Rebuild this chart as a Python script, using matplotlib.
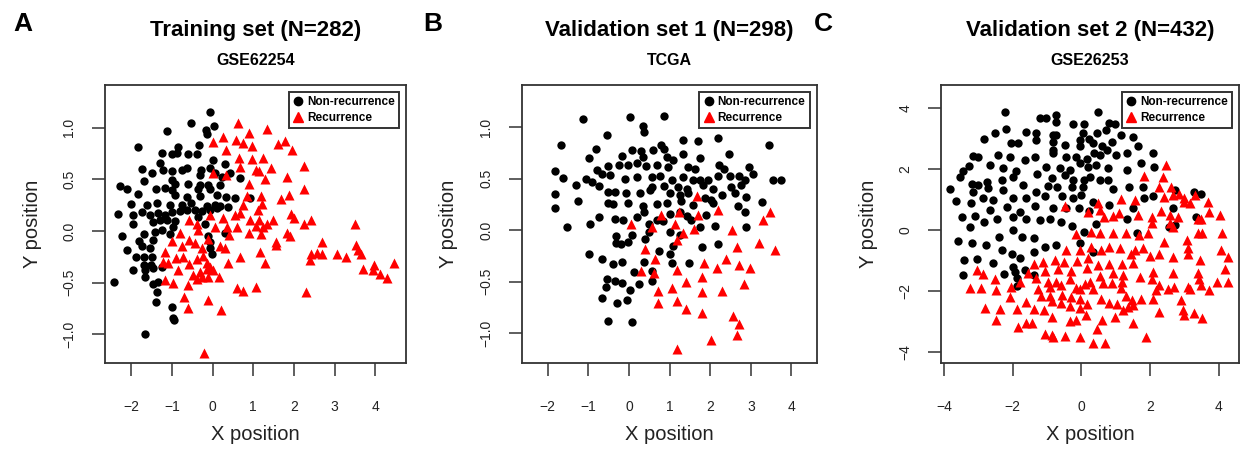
import matplotlib
matplotlib.use("Agg")
import matplotlib.pyplot as plt
from matplotlib.lines import Line2D

plt.rcParams["font.family"] = ["Liberation Sans", "DejaVu Sans"]

# --- Panel A: training set GSE62254 ---
a_non_x = [-0.07, 0.04, -0.52, -1.13, -0.16, -0.13, -1.83, -0.33, -0.84, -0.87, -1.25, -0.60, -0.39, -1.01,
           0.00, 0.30, -1.30, -1.75, -1.50, -1.21, -1.01, -0.76, -0.62, -0.29, -0.07, 0.06, -0.31, 0.22, 0.44,
           0.67, -1.70, -1.01, -0.93, -0.60, -0.31, -0.11, 0.18, -2.28, -2.10, -1.39, -1.17, -1.01, -0.35, -0.07,
           -1.83, -0.93, -0.62, -0.31, 0.10, 0.34, 0.55, 0.92, -2.02, -1.62, -1.38, -1.05, -0.76, -0.52, -0.15,
           0.06, 0.18, 0.39, -2.32, -1.95, -1.75, -1.54, -1.34, -1.17, -1.01, -0.80, -0.62, -0.43, -0.27, -0.07,
           0.10, -1.95, -1.46, -1.30, -1.13, -0.93, -0.35, -0.19, -2.24, -1.70, -1.42, -1.25, -1.05, -0.97, 0.30,
           -1.80, -1.46, -0.11, -0.07, -2.10, -1.75, -1.54, -0.07, -1.89, -1.70, -1.48, -0.02, -1.70, -1.52,
           -1.25, -1.97, -1.66, -1.46, -2.43, -1.66, -1.46, -1.34, -1.36, -1.39, -1.01, -0.98, -0.95, -1.66]
a_non_y = [1.15, 1.02, 1.05, 0.97, 0.98, 0.94, 0.81, 0.83, 0.81, 0.76, 0.76, 0.75, 0.75, 0.75,
           0.69, 0.65, 0.66, 0.60, 0.56, 0.59, 0.58, 0.59, 0.61, 0.59, 0.61, 0.56, 0.54, 0.52, 0.56,
           0.51, 0.48, 0.49, 0.46, 0.46, 0.45, 0.45, 0.45, 0.44, 0.41, 0.41, 0.42, 0.40, 0.41, 0.41,
           0.36, 0.35, 0.33, 0.34, 0.35, 0.33, 0.32, 0.32, 0.26, 0.25, 0.27, 0.25, 0.25, 0.27, 0.24,
           0.25, 0.24, 0.23, 0.16, 0.15, 0.18, 0.15, 0.17, 0.15, 0.18, 0.19, 0.20, 0.20, 0.19, 0.20,
           0.22, 0.07, 0.09, 0.11, 0.11, 0.10, 0.14, 0.07, -0.05, -0.03, -0.01, 0.01, -0.03, 0.04, -0.02,
           -0.10, -0.09, -0.05, -0.11, -0.18, -0.15, -0.17, -0.17, -0.25, -0.25, -0.25, -0.22, -0.33, -0.33,
           -0.35, -0.38, -0.38, -0.36, -0.49, -0.45, -0.51, -0.49, -0.59, -0.69, -0.74, -0.84, -0.86, -1.00]
a_rec_x = [0.63, 1.35, 0.90, 0.26, 0.57, 0.75, 0.00, 1.61, 1.78, 0.98, 1.96, 0.33, 0.66, 0.98, 1.25, 0.67,
           1.07, 1.15, 1.43, 2.25, 0.02, 0.33, 1.30, 1.82, 0.90, 2.25, 0.84, 1.20, 1.89, 1.68, 1.22, 0.75,
           -0.07, 0.25, 0.55, 0.67, 0.92, 1.12, 1.15, 1.49, 1.33, 1.92, 2.00, 2.43, 2.25, 3.50, -0.57, -0.39,
           -0.35, 0.06, 0.36, 0.59, 1.08, 1.25, -0.80, 0.41, 0.90, 1.20, 1.82, 1.90, -1.01, -0.57, -0.43,
           -0.11, -0.75, -0.27, 0.18, 0.30, 1.16, 1.57, 1.56, 2.68, -1.17, -0.72, -0.90, -0.39, -0.23, 0.67,
           2.41, 2.56, 2.68, 3.07, 3.28, 3.52, 3.58, 3.64, -1.21, -1.09, -0.57, -0.15, -0.07, 0.39, 1.30,
           2.39, 4.46, 3.97, -0.84, -0.49, -0.31, -0.15, 0.02, 3.70, 3.95, 4.13, 4.28, -1.17, -0.97, -0.39,
           -0.27, -0.11, 0.16, -0.61, 0.61, 0.74, 1.06, 2.30, -0.70, -0.12, -0.60, 0.20, -0.21]
a_rec_y = [1.05, 0.99, 0.95, 0.91, 0.88, 0.85, 0.86, 0.84, 0.87, 0.82, 0.78, 0.78, 0.71, 0.70, 0.71, 0.62,
           0.59, 0.58, 0.61, 0.63, 0.56, 0.54, 0.50, 0.52, 0.46, 0.41, 0.34, 0.34, 0.35, 0.31, 0.26, 0.25,
           0.15, 0.13, 0.15, 0.17, 0.11, 0.20, 0.11, 0.11, 0.07, 0.16, 0.13, 0.11, 0.07, 0.07, 0.11, 0.07,
           0.01, 0.04, 0.04, 0.04, 0.05, 0.04, -0.02, -0.04, -0.02, -0.03, -0.02, -0.05, -0.10, -0.09, -0.12,
           -0.08, -0.15, -0.17, -0.15, -0.17, -0.20, -0.11, -0.14, -0.11, -0.20, -0.25, -0.26, -0.27, -0.24, -0.25,
           -0.22, -0.21, -0.22, -0.22, -0.25, -0.14, -0.18, -0.22, -0.30, -0.31, -0.32, -0.31, -0.35, -0.31, -0.31,
           -0.28, -0.31, -0.33, -0.38, -0.43, -0.40, -0.37, -0.38, -0.37, -0.38, -0.42, -0.46, -0.48, -0.50, -0.47,
           -0.45, -0.45, -0.45, -0.52, -0.55, -0.58, -0.54, -0.59, -0.64, -0.67, -0.75, -0.77, -1.18]

# --- Panel B: validation set 1, TCGA ---
b_non_x = [-1.12, 0.02, 0.87, 0.34, 0.37, -1.68, -0.53, 1.34, 1.71, 2.20, 3.45, -0.81, 0.07, 0.29, 0.60, 0.80,
           0.86, -0.98, -0.18, 0.34, 0.93, 1.09, 1.32, 1.74, 2.46, -0.51, -0.25, -0.02, 0.20, 0.43, 0.70, 0.97,
           1.46, 1.63, 2.22, 2.34, 2.96, -1.82, -0.78, -0.67, -0.47, 0.19, 0.56, 0.76, 1.05, 1.32, 1.57, 1.74,
           1.95, 2.20, 2.48, 2.71, 2.85, 3.05, 3.55, 3.75, -1.63, -1.06, -0.92, -1.31, -0.73, -0.10, 0.56, 0.86,
           1.21, 1.42, 1.83, 2.07, 2.52, 2.77, -1.82, -0.51, -0.34, -0.06, 0.27, 0.52, 1.01, 1.25, 1.46, 1.87,
           2.03, 2.28, 2.61, 2.89, -1.82, -1.25, -0.51, -0.39, -0.02, 0.34, 0.68, 0.93, 1.29, 1.58, 2.07, 2.69,
           3.27, -1.53, -0.96, -0.73, -0.34, -0.14, 0.19, 0.37, 0.50, 0.68, 0.84, 1.01, 1.25, 1.42, 1.54, 1.74,
           1.89, 2.11, 2.85, 2.87, -0.98, -0.66, -0.32, -0.32, -0.20, -0.02, 0.08, 0.39, 0.50, 0.75, 1.00, 1.09,
           1.25, 1.01, 1.81, 2.20, -0.38, -0.18, 0.12, 0.37, 0.58, 1.07, 1.49, -0.53, -0.57, -0.34, -0.18, 0.02,
           0.26, 0.56, -0.65, -0.29, -0.04, -0.51, 0.07]
b_non_y = [1.08, 1.10, 1.11, 1.01, 0.95, 0.83, 0.92, 0.88, 0.87, 0.90, 0.83, 0.79, 0.78, 0.77, 0.78, 0.83,
           0.79, 0.70, 0.72, 0.71, 0.71, 0.68, 0.74, 0.70, 0.74, 0.62, 0.63, 0.63, 0.65, 0.62, 0.63, 0.61,
           0.61, 0.59, 0.63, 0.59, 0.61, 0.57, 0.58, 0.55, 0.54, 0.52, 0.52, 0.53, 0.49, 0.52, 0.49, 0.49,
           0.49, 0.53, 0.53, 0.53, 0.49, 0.55, 0.49, 0.49, 0.51, 0.50, 0.47, 0.44, 0.43, 0.50, 0.42, 0.43,
           0.42, 0.40, 0.44, 0.40, 0.42, 0.44, 0.35, 0.37, 0.37, 0.36, 0.36, 0.39, 0.36, 0.34, 0.36, 0.31,
           0.29, 0.34, 0.36, 0.32, 0.22, 0.28, 0.26, 0.25, 0.26, 0.23, 0.25, 0.26, 0.28, 0.24, 0.26, 0.23,
           0.27, 0.03, 0.06, 0.13, 0.11, 0.10, 0.13, 0.18, 0.06, 0.10, 0.09, 0.16, 0.18, 0.14, 0.10, 0.03,
           0.15, 0.04, 0.18, 0.03, -0.23, -0.28, -0.06, -0.12, -0.13, -0.11, -0.05, -0.09, -0.02, -0.20, -0.23, -0.15,
           -0.05, -0.02, -0.16, -0.13, -0.33, -0.31, -0.41, -0.31, -0.40, -0.32, -0.32, -0.47, -0.55, -0.49, -0.51, -0.58,
           -0.52, -0.49, -0.66, -0.71, -0.68, -0.88, -0.89]
b_rec_x = [1.68, 2.20, 3.48, 3.29, 0.78, 1.70, 0.05, 0.57, 1.14, 1.24, 1.32, 1.60, 2.54, 1.18, 0.39, 2.66,
           3.20, 3.59, 0.64, 1.86, 2.39, 2.70, 2.99, 2.18, 0.29, 0.61, 1.19, 1.40, 1.79, 2.84, 0.72, 1.07,
           1.79, 2.30, 0.72, 1.19, 1.40, 1.79, 2.57, 2.70, 2.66, 2.01, 1.19]
b_rec_y = [0.33, 0.20, 0.18, 0.10, 0.15, 0.15, 0.06, 0.03, 0.06, 0.18, -0.03, 0.01, 0.00, -0.10, -0.18, -0.16,
           -0.12, -0.19, -0.28, -0.32, -0.28, -0.34, -0.37, -0.37, -0.40, -0.42, -0.39, -0.50, -0.45, -0.52, -0.59, -0.56,
           -0.60, -0.59, -0.71, -0.69, -0.77, -0.80, -0.83, -0.91, -1.02, -1.07, -1.15]

# --- Panel C: validation set 2, GSE26253 ---
c_non_x = [-2.23, 0.48, -1.21, -1.02, -0.75, -0.73, -0.24, 0.07, 0.82, 0.97, -2.20, -1.62, -2.52, -2.84, -1.31,
           -1.31, -0.82, -0.73, 0.05, 0.22, 0.45, 0.73, 1.16, 1.52, -2.04, -1.84, -0.82, -0.48, -0.05, -0.05,
           0.34, 0.61, 0.90, 1.65, -3.15, -3.00, -2.42, -2.08, -1.65, -1.36, -0.82, -0.84, -0.44, -0.16, 0.15,
           0.36, 0.53, 0.75, 1.02, 1.33, 2.08, -3.44, -3.27, -2.66, -2.28, -1.91, -1.04, -0.63, -0.34, -0.05,
           0.19, 0.42, 0.77, 1.33, 1.74, 2.11, -3.55, -3.20, -3.00, -2.76, -2.32, -1.98, -1.69, -1.29, -0.87,
           -0.48, -0.24, 0.07, 0.24, 0.53, 0.78, -3.84, -3.15, -2.71, -2.28, -1.33, -0.97, -0.71, -0.26, 0.05,
           0.92, 1.38, 1.79, 2.74, 3.29, 3.48, -3.65, -3.22, -2.88, -2.57, -2.00, -1.60, -1.06, -0.55, -0.24,
           0.00, 0.34, 1.84, 2.08, -3.48, -3.10, -2.66, -2.18, -1.79, -1.36, -0.82, -0.44, -0.07, 0.22, 0.82,
           1.50, 2.66, -3.24, -2.84, -2.47, -2.00, -1.60, -1.21, -0.92, -0.58, -0.26, 0.07, 0.42, 1.33, 2.56,
           2.74, 3.35, -3.61, -3.19, -2.78, -2.39, -1.98, -1.74, -1.38, -1.06, -0.75, -0.05, 0.34, 1.62, -3.42,
           -3.05, -2.58, -2.32, -2.03, -1.79, -1.38, -1.98, -1.94, -1.65, -1.38, -2.26, -3.46, -1.89, -1.87]
c_non_y = [3.89, 3.89, 3.69, 3.70, 3.78, 3.56, 3.50, 3.50, 3.53, 3.48, 3.31, 3.23, 3.18, 2.98, 3.18,
           2.96, 3.12, 3.12, 3.18, 2.98, 3.18, 3.29, 3.12, 3.07, 2.87, 2.85, 2.90, 2.79, 2.96, 2.76,
           2.85, 2.76, 2.90, 2.76, 2.43, 2.39, 2.46, 2.39, 2.30, 2.39, 2.63, 2.54, 2.41, 2.41, 2.35,
           2.52, 2.46, 2.63, 2.46, 2.54, 2.52, 1.95, 2.10, 2.14, 2.03, 1.95, 2.06, 2.03, 1.99, 2.19,
           2.06, 2.14, 2.03, 1.97, 2.19, 2.06, 1.73, 1.53, 1.48, 1.59, 1.64, 1.75, 1.48, 1.83, 1.70,
           1.81, 1.66, 1.64, 1.75, 1.66, 1.66, 1.34, 1.26, 1.37, 1.31, 1.26, 1.45, 1.42, 1.42, 1.42,
           1.34, 1.40, 1.40, 1.31, 1.26, 1.20, 0.96, 0.88, 1.04, 0.99, 1.04, 1.07, 1.12, 1.12, 1.04,
           1.15, 0.93, 1.07, 1.12, 0.42, 0.46, 0.66, 0.77, 0.60, 0.79, 0.71, 0.71, 0.71, 0.64, 0.82,
           0.71, 0.71, 0.11, 0.27, 0.38, 0.44, 0.35, 0.33, 0.38, 0.27, 0.13, -0.05, 0.20, 0.35, 0.11,
           0.16, 0.44, -0.36, -0.44, -0.49, -0.22, 0.00, -0.22, -0.27, -0.55, -0.49, -0.44, -0.71, -0.09, -0.99,
           -0.96, -1.07, -0.64, -0.77, -0.93, -0.71, -1.20, -1.37, -1.31, -1.48, -1.45, -1.48, -1.59, -1.84]
c_rec_x = [2.47, 1.84, 2.37, 2.27, 2.61, 2.42, 2.66, 2.86, 3.00, 3.16, 3.00, 3.32, 3.70, 3.72, 4.04, 1.16,
           1.55, 0.48, -0.48, 0.19, 0.53, 1.11, 1.65, 2.06, 2.32, 2.57, 2.81, 3.39, 3.48, 0.65, 0.92, 2.06,
           2.57, 2.66, -0.15, 0.29, 0.53, 0.92, 1.31, 1.67, 1.94, 2.42, 3.08, 3.39, 3.51, 4.11, -0.44, -0.05,
           0.27, 0.56, 0.82, 1.13, 1.45, 1.57, 1.79, 2.00, 2.25, 2.66, 3.10, 3.10, 3.46, 4.08, 4.27, -1.38,
           -1.11, -0.77, -0.51, -0.13, 0.19, 0.48, 0.80, 1.18, 1.52, -3.03, -2.86, -1.55, -1.06, -0.68, -0.29,
           0.16, 0.55, 0.92, 1.21, 1.71, 2.10, 2.66, 3.39, 4.18, -2.52, -1.79, -1.31, -0.97, -0.73, -0.32,
           0.10, 0.24, 0.63, 0.90, 1.19, 2.06, 2.25, 2.54, 3.12, 3.42, 3.48, 3.94, 4.28, -3.26, -2.93, -2.50,
           -2.04, -1.27, -0.92, -0.58, -0.15, -0.05, 0.34, 1.16, 2.18, 2.71, 3.16, 3.72, -2.08, -1.19, -0.90,
           -0.55, -0.29, -0.05, 0.58, 1.31, 1.48, 2.08, 2.90, -2.81, -2.37, -1.89, -1.60, -1.38, -1.09, -0.87,
           -0.58, -0.32, -0.05, 0.16, 0.82, 1.03, 1.21, 1.36, 1.52, 1.74, 2.25, 2.95, 3.00, -2.48, -1.84, -1.60,
           -1.45, -0.87, -0.34, -0.15, 0.13, 0.61, 0.97, 1.50, 3.29, 3.52, -1.06, -0.87, -0.84, -0.48, -0.05,
           0.45, 0.34, 0.68, 1.89]
c_rec_y = [2.14, 1.77, 1.75, 1.40, 1.42, 1.10, 1.15, 1.20, 1.07, 0.88, 0.93, 1.15, 0.93, 0.60, 0.49, 1.01,
           0.99, 0.88, 0.79, 0.60, 0.66, 0.57, 0.49, 0.44, 0.64, 0.49, 0.44, 0.38, 0.38, 0.44, 0.46, 0.24,
           0.22, 0.11, -0.13, -0.05, -0.09, -0.11, -0.11, -0.16, -0.11, -0.38, -0.31, -0.09, -0.09, -0.09, -0.64, -0.66,
           -0.55, -0.66, -0.55, -0.60, -0.77, -0.66, -0.60, -0.85, -0.77, -0.90, -0.60, -0.79, -0.99, -0.64, -0.88, -1.10,
           -1.04, -0.99, -1.04, -1.01, -0.93, -1.15, -1.10, -1.10, -1.07, -1.31, -1.45, -1.40, -1.34, -1.29, -1.34,
           -1.26, -1.51, -1.42, -1.48, -1.53, -1.37, -1.40, -1.40, -1.29, -1.62, -1.70, -1.59, -1.70, -1.72, -1.62,
           -1.77, -1.70, -1.73, -1.75, -1.70, -1.62, -1.81, -1.95, -1.86, -1.62, -1.81, -1.70, -1.70, -1.92, -1.92, -1.97,
           -1.88, -1.95, -1.88, -1.81, -1.92, -1.95, -1.95, -1.92, -1.97, -1.88, -1.95, -1.97, -2.19, -2.17, -2.17,
           -2.14, -2.19, -2.25, -2.25, -2.17, -2.30, -2.25, -2.30, -2.57, -2.61, -2.61, -2.35, -2.61, -2.63, -2.32,
           -2.41, -2.50, -2.57, -2.43, -2.39, -2.43, -2.63, -2.54, -2.46, -2.28, -2.68, -2.63, -2.79, -2.96, -3.18, -3.04,
           -3.04, -2.87, -2.98, -2.94, -2.79, -2.96, -2.87, -3.04, -2.72, -2.90, -3.42, -3.45, -3.53, -3.48, -3.53,
           -3.26, -3.72, -3.72, -3.50]

# axes boxes in figure fractions (left, bottom, width, height)
PANELS = [
    dict(box=[0.0845, 0.2022, 0.2424, 0.611], letter="A", letter_x=0.0185,
         title="Training set (N=282)", subtitle="GSE62254",
         non=(a_non_x, a_non_y), rec=(a_rec_x, a_rec_y),
         xlim=(-2.65, 4.76), ylim=(-1.28, 1.415),
         xticks=[-2, -1, 0, 1, 2, 3, 4], yticks=[-1.0, -0.5, 0.0, 0.5, 1.0], yfmt="{:.1f}"),
    dict(box=[0.4200, 0.2022, 0.2375, 0.611], letter="B", letter_x=0.3486,
         title="Validation set 1 (N=298)", subtitle="TCGA",
         non=(b_non_x, b_non_y), rec=(b_rec_x, b_rec_y),
         xlim=(-2.64, 4.62), ylim=(-1.29, 1.41),
         xticks=[-2, -1, 0, 1, 2, 3, 4], yticks=[-1.0, -0.5, 0.0, 0.5, 1.0], yfmt="{:.1f}"),
    dict(box=[0.7577, 0.2022, 0.2400, 0.611], letter="C", letter_x=0.6626,
         title="Validation set 2 (N=432)", subtitle="GSE26253",
         non=(c_non_x, c_non_y), rec=(c_rec_x, c_rec_y),
         xlim=(-4.09, 4.6), ylim=(-4.37, 4.77),
         xticks=[-4, -2, 0, 2, 4], yticks=[-4, -2, 0, 2, 4], yfmt="{:.0f}"),
]

fig = plt.figure(figsize=(12.42, 4.55), dpi=100)

for p in PANELS:
    ax = fig.add_axes(p["box"])
    ax.scatter(p["non"][0], p["non"][1], s=36, marker="o", color="black", linewidths=0, zorder=2)
    ax.scatter(p["rec"][0], p["rec"][1], s=52, marker="^", color="#ff0000", linewidths=0, zorder=3)
    ax.set_xlim(*p["xlim"])
    ax.set_ylim(*p["ylim"])

    ax.set_xticks(p["xticks"])
    ax.set_xticklabels([str(t).replace("-", "\u2212") for t in p["xticks"]])
    ax.set_yticks(p["yticks"])
    ax.set_yticklabels([p["yfmt"].format(t).replace("-", "\u2212") for t in p["yticks"]],
                       rotation=90, va="center")
    ax.tick_params(axis="both", direction="out", length=9.5, width=1.1, color="#333333",
                   labelsize=10, labelcolor="#222222")
    ax.tick_params(axis="x", pad=17)
    ax.tick_params(axis="y", pad=11)
    for sp in ax.spines.values():
        sp.set_linewidth(1.3)
        sp.set_color("#333333")

    ax.set_xlabel("X position", fontsize=14.5, labelpad=8, color="#222222")
    ax.set_ylabel("Y position", fontsize=14.5, labelpad=15, color="#222222")

    handles = [
        Line2D([], [], marker="o", color="black", linestyle="none", markersize=6),
        Line2D([], [], marker="^", color="#ff0000", linestyle="none", markersize=7),
    ]
    leg = ax.legend(handles, ["Non-recurrence", "Recurrence"], loc="upper right",
                    prop={"size": 8.5, "weight": "bold"}, frameon=True, fancybox=False,
                    borderpad=0.35, handlelength=0.9, handletextpad=0.3, labelspacing=0.3,
                    borderaxespad=0.6)
    leg.get_frame().set_edgecolor("black")
    leg.get_frame().set_linewidth(1.4)
    leg.set_zorder(5)

    cx = p["box"][0] + p["box"][2] / 2
    fig.text(cx, 0.934, p["title"], ha="center", va="center", fontsize=16, fontweight="bold")
    fig.text(cx, 0.868, p["subtitle"], ha="center", va="center", fontsize=11.5, fontweight="bold")
    fig.text(p["letter_x"], 0.947, p["letter"], ha="center", va="center", fontsize=19, fontweight="bold")

fig.savefig("out.png", dpi=100)
